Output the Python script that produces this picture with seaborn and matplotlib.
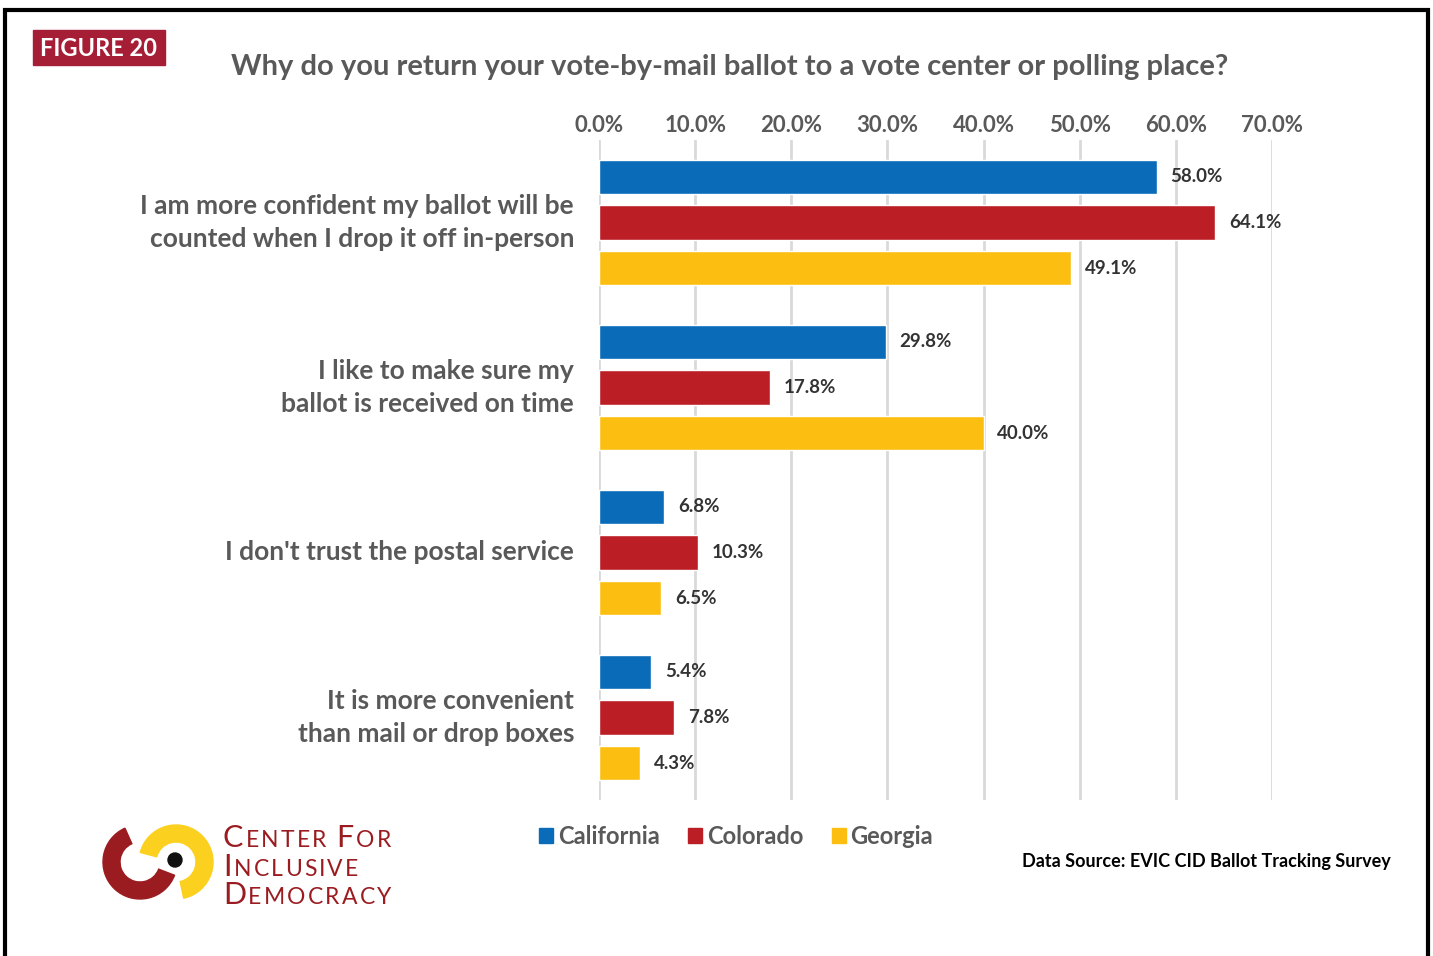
import matplotlib
matplotlib.use("Agg")
import matplotlib.pyplot as plt
import matplotlib.patches as mpatches
import seaborn as sns
import pandas as pd

# Survey responses (% of respondents)
reasons = [
    "I am more confident my ballot will be\ncounted when I drop it off in-person",
    "I like to make sure my\nballot is received on time",
    "I don't trust the postal service",
    "It is more convenient\nthan mail or drop boxes",
]
states = ["California", "Colorado", "Georgia"]
california = [58.0, 29.8, 6.8, 5.4]
colorado = [64.1, 17.8, 10.3, 7.8]
georgia = [49.1, 40.0, 6.5, 4.3]
xticks = [0, 10, 20, 30, 40, 50, 60, 70]

colors = ["#0A6BB8", "#BC1E26", "#FDBE12"]
GRAY = "#595959"
FONT = "Lato"

df = pd.DataFrame({
    "reason": reasons * 3,
    "state": [s for s in states for _ in reasons],
    "pct": california + colorado + georgia,
})

sns.set_theme(style="white")
plt.rcParams["font.family"] = [FONT, "DejaVu Sans"]

W, H = 1433, 956
fig = plt.figure(figsize=(W / 100, H / 100), dpi=100)
ax = fig.add_axes([599 / W, 1 - 800 / H, (1272 - 599) / W, (800 - 140) / H])

sns.barplot(data=df, y="reason", x="pct", hue="state", hue_order=states,
            palette=colors, orient="h", width=0.83, gap=0.25, saturation=1,
            ax=ax, legend=False)

ax.set_xlim(0, 70)
ax.set_ylim(3.5, -0.5)
ax.set_xticks(xticks)
ax.set_xticklabels([f"{v:.1f}%" for v in xticks])
ax.xaxis.tick_top()
ax.tick_params(axis="x", length=0, pad=3, labelsize=16, labelcolor=GRAY)
for t in ax.get_xticklabels():
    t.set_fontweight("bold")
ax.tick_params(axis="y", length=0, pad=18, labelsize=19, labelcolor=GRAY)
for t in ax.get_yticklabels():
    t.set_fontweight("bold")
    t.set_multialignment("right")
    t.set_linespacing(1.45)
    t.set_va("center")
ax.set_xlabel("")
ax.set_ylabel("")
ax.grid(axis="x", color="#D9D9D9", linewidth=2)
ax.set_axisbelow(True)
for s in ax.spines.values():
    s.set_visible(False)

for cont in ax.containers:
    ax.bar_label(cont, fmt="%.1f%%", padding=10, fontsize=13.5,
                 fontweight="bold", color="#333333")

# Legend
handles = [mpatches.Patch(color=c, label=s) for c, s in zip(colors, states)]
leg = fig.legend(handles=handles, loc="center", ncol=3, frameon=False,
                 bbox_to_anchor=(736 / W, 1 - 836 / H), handlelength=0.6,
                 handleheight=0.6, handletextpad=0.2, columnspacing=1.2,
                 prop={"family": FONT, "size": 17, "weight": "bold"})
for t in leg.get_texts():
    t.set_color(GRAY)

# Overlays for frame, heading badge and logo (pixel coordinates, y up)
ov = fig.add_axes([0, 0, 1, 1], zorder=-1)
ov.set_xlim(0, W)
ov.set_ylim(0, H)
ov.axis("off")
over = fig.add_axes([0, 0, 1, 1], zorder=5)
over.set_xlim(0, W)
over.set_ylim(0, H)
over.axis("off")
over.patch.set_alpha(0)

def Y(y):
    return H - y

ov.add_patch(mpatches.Rectangle((5, -20), 1423, Y(10) + 20, fill=False,
                                edgecolor="black", linewidth=3))

over.add_patch(mpatches.Rectangle((33, Y(65)), 132, 35, color="#A51E36"))
over.text(99, Y(48), "FIGURE 20", color="white", fontsize=17, fontweight="bold",
          ha="center", va="center")

fig.text(730 / W, 1 - 67 / H,
         "Why do you return your vote-by-mail ballot to a vote center or polling place?",
         ha="center", va="center", fontsize=21, fontweight="bold", color=GRAY)

fig.text(1391 / W, 1 - 861 / H, "Data Source: EVIC CID Ballot Tracking Survey",
         ha="right", va="center", fontsize=13, fontweight="bold", color="black")

# Logo mark
over.add_patch(mpatches.Wedge((140, Y(862)), 37, 114, 339, width=17, color="#9B1C20"))
over.add_patch(mpatches.Wedge((176, Y(862)), 37, -78, 165, width=17, color="#FCD01E"))
over.add_patch(mpatches.Circle((175, Y(860)), 7, color="#111111"))

# Logo wordmark in small caps with letter tracking
fig.canvas.draw()
renderer = fig.canvas.get_renderer()
LOGO_RED = "#9B1C20"
TRACK = 2.2
for line, ybase in [("CENTER FOR", 847), ("INCLUSIVE", 876), ("DEMOCRACY", 904)]:
    x = 223
    for wi, word in enumerate(line.split(" ")):
        if wi:
            x += 8
        for ci, ch in enumerate(word):
            size = 22 if ci == 0 else 16.5
            t = over.text(x, Y(ybase), ch, fontsize=size, color=LOGO_RED,
                          fontweight="normal", family="Lato",
                          va="baseline", ha="left")
            x = t.get_window_extent(renderer).x1 + TRACK

fig.savefig("out.png", dpi=100)
